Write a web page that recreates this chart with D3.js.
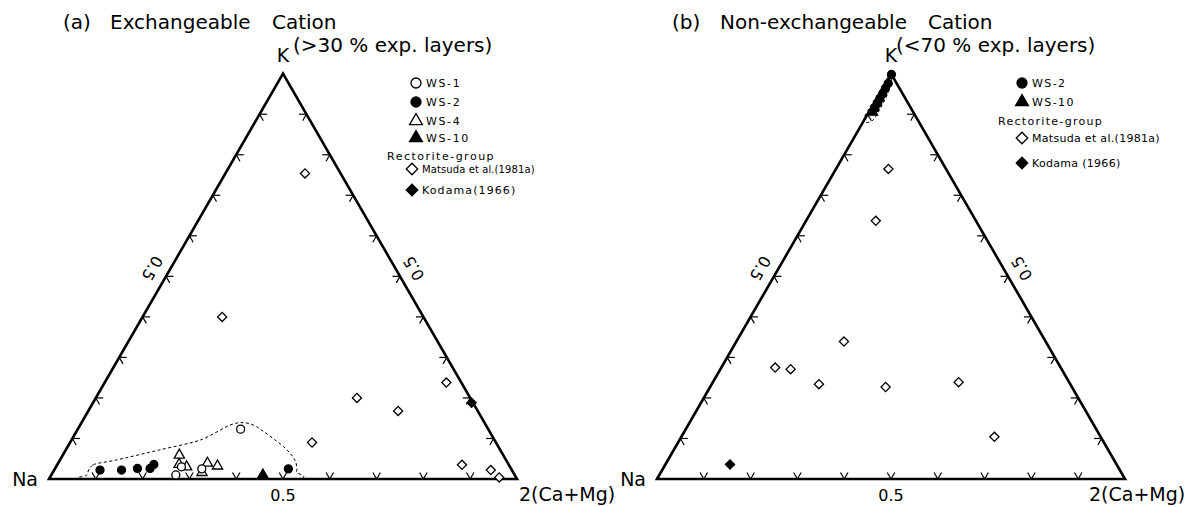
<!DOCTYPE html>
<html>
<head>
<meta charset="utf-8">
<script src="https://cdn.jsdelivr.net/npm/d3@7"></script>
<style>
  body { margin: 0; background: #fff; }
  svg { display: block; font-family: "DejaVu Sans", sans-serif; }
</style>
</head>
<body>
<script>
// compositions are [K, 2(Ca+Mg)] fractions, Na = 1 - K - Ca
const ws1A = [[0.010, 0.266], [0.030, 0.268], [0.025, 0.314], [0.123, 0.348]]
const ws2A = [[0.022, 0.098], [0.022, 0.144], [0.026, 0.176], [0.026, 0.203], [0.036, 0.206], [0.025, 0.499]]
const ws4A = [[0.059, 0.249], [0.036, 0.260], [0.030, 0.279], [0.016, 0.319], [0.039, 0.319], [0.032, 0.344]]
const ws10A = [[0.010, 0.452]]
const matsudaA = [[0.754, 0.170], [0.400, 0.170], [0.200, 0.558], [0.168, 0.662], [0.238, 0.730],
  [0.090, 0.517], [0.035, 0.865], [0.022, 0.933], [0.004, 0.960]]
const kodamaA = [[0.188, 0.809]]
const envelopeA = [[0.010, 0.076], [0.035, 0.077], [0.047, 0.121], [0.072, 0.201], [0.096, 0.275],
  [0.133, 0.320], [0.139, 0.346], [0.129, 0.379], [0.080, 0.461], [0.047, 0.502], [0.018, 0.520],
  [0.000, 0.515], [0.000, 0.088]]

const ws2B = [[0.998, 0.002], [0.976, 0.006], [0.964, 0.006], [0.951, 0.007], [0.939, 0.007], [0.927, 0.008], [0.915, 0.008]]
const ws10B = [[0.905, 0.008]]
const matsudaB = [[0.765, 0.112], [0.637, 0.149], [0.339, 0.230], [0.275, 0.115], [0.271, 0.150],
  [0.234, 0.229], [0.227, 0.375], [0.239, 0.525], [0.104, 0.669]]
const kodamaB = [[0.036, 0.138]]
const envelopeB = [[0.999, 0.001], [0.960, 0.016], [0.918, 0.020], [0.886, 0.019], [0.880, 0.006], [0.898, -0.004]]

const tickValues = d3.range(1, 10).map(i => i / 10)
const vertexLabels = ['Na', 'K', '2(Ca+Mg)']

const side = 468
const triH = side * Math.sqrt(3) / 2
const base = 479

const svg = d3.select('body').append('svg')
  .attr('width', 1192)
  .attr('height', 507)

const symbols = {
  circle: d3.symbol().type(d3.symbolCircle).size(50),
  triangle: d3.symbol().type(d3.symbolTriangle).size(46),
  diamond: d3.symbol().type(d3.symbolSquare).size(42)
}

const drawMark = (g, type, filled, x, y, k = 1) => {
  g.append('path')
    .attr('d', symbols[type]())
    .attr('transform', `translate(${x},${y}) scale(${k})` + (type === 'diamond' ? ' rotate(45)' : ''))
    .attr('fill', filled ? '#000' : '#fff')
    .attr('stroke', '#000')
    .attr('stroke-width', 1.3 / k)
}

const drawPanel = (x0, opts) => {
  const g = svg.append('g')
  const px = d3.scaleLinear().domain([0, 1]).range([x0, x0 + side])
  const py = d3.scaleLinear().domain([0, 1]).range([base, base - triH])
  const proj = ([k, ca]) => [px(ca + k / 2), py(k)]

  const line = d3.line().curve(d3.curveCardinalClosed.tension(0.2))
  g.append('path')
    .attr('d', line(opts.envelope.map(proj)))
    .attr('fill', 'none')
    .attr('stroke', '#000')
    .attr('stroke-width', 1)
    .attr('stroke-dasharray', '3,2.5')

  // ticks: short stubs along the grid directions
  const arm = 7.5
  const tickG = g.append('g').attr('stroke', '#000').attr('stroke-width', 1.2)
  const stub = (p, dirs) => dirs.forEach(([dx, dy]) => {
    tickG.append('line')
      .attr('x1', p[0]).attr('y1', p[1])
      .attr('x2', p[0] + dx * arm).attr('y2', p[1] + dy * arm)
  })
  const c = 0.5, s = Math.sqrt(3) / 2
  tickValues.forEach(t => {
    stub(proj([0, t]), [[c, -s], [-c, -s]])
    stub(proj([t, 0]), [[1, 0], [c, s]])
    stub(proj([t, 1 - t]), [[-1, 0], [-c, s]])
  })

  const corners = [proj([0, 0]), proj([1, 0]), proj([0, 1])]
  g.append('path')
    .attr('d', 'M' + corners.join('L') + 'Z')
    .attr('fill', 'none')
    .attr('stroke', '#000')
    .attr('stroke-width', 2.6)
    .attr('stroke-linejoin', 'miter')

  // 0.5 labels
  const lbl = (p, rot) => g.append('text')
    .attr('transform', `translate(${p[0]},${p[1]}) rotate(${rot})`)
    .attr('text-anchor', 'middle')
    .attr('dominant-baseline', 'central')
    .attr('font-size', 16)
    .text('0.5')
  const b = proj([0, 0.5]), l = proj([0.5, 0]), r = proj([0.5, 0.5])
  lbl([b[0], b[1] + 16], 0)
  lbl([l[0] - 16 * s, l[1] - 16 * c], 120)
  lbl([r[0] + 16 * s, r[1] - 16 * c], -120)

  // vertices
  g.append('text').attr('x', corners[0][0] - 11).attr('y', base + 7)
    .attr('text-anchor', 'end').attr('font-size', 19).text(vertexLabels[0])
  g.append('text').attr('x', corners[1][0]).attr('y', corners[1][1] - 12)
    .attr('text-anchor', 'middle').attr('font-size', 19).text(vertexLabels[1])
  g.append('text').attr('x', corners[2][0] + opts.caDx).attr('y', base + 22)
    .attr('font-size', 19).text(vertexLabels[2])

  opts.series.forEach(sr => {
    sr.data.forEach(d => {
      const [x, y] = proj(d)
      drawMark(g, sr.type, sr.filled, x, y)
    })
  })

  // titles
  opts.title.forEach(t => {
    g.append('text').attr('x', t[0]).attr('y', t[1]).attr('font-size', 20).text(t[2])
  })

  // legend
  const lg = g.append('g')
  opts.legend.forEach(it => {
    if (it.type) drawMark(lg, it.type, it.filled, it.x, it.y, 1.25)
    lg.append('text')
      .attr('x', it.type ? it.x + 10 : it.x)
      .attr('y', it.y + 4)
      .attr('font-size', it.fs || 11)
      .attr('letter-spacing', it.ls)
      .text(it.text)
  })
}

drawPanel(49, {
  caDx: 2,
  envelope: envelopeA,
  series: [
    { data: matsudaA, type: 'diamond', filled: false },
    { data: kodamaA, type: 'diamond', filled: true },
    { data: ws4A, type: 'triangle', filled: false },
    { data: ws1A, type: 'circle', filled: false },
    { data: ws2A, type: 'circle', filled: true },
    { data: ws10A, type: 'triangle', filled: true }
  ],
  title: [[63, 29, '(a)'], [110, 29, 'Exchangeable'], [272, 29, 'Cation'], [293, 52, '(>30 % exp. layers)']],
  legend: [
    { type: 'circle', filled: false, x: 416, y: 83, text: 'WS-1', ls: 1.6 },
    { type: 'circle', filled: true, x: 416, y: 102, text: 'WS-2', ls: 1.6 },
    { type: 'triangle', filled: false, x: 416, y: 121, text: 'WS-4', ls: 1.6 },
    { type: 'triangle', filled: true, x: 416, y: 138, text: 'WS-10', ls: 1.6 },
    { x: 387, y: 156, text: 'Rectorite-group', ls: 1.5 },
    { type: 'diamond', filled: false, x: 412, y: 169, text: 'Matsuda et al.(1981a)', fs: 10, ls: 0.1 },
    { type: 'diamond', filled: true, x: 412, y: 190, text: 'Kodama(1966)', ls: 1.1 }
  ]
})

drawPanel(657, {
  caDx: -36,
  envelope: envelopeB,
  series: [
    { data: matsudaB, type: 'diamond', filled: false },
    { data: kodamaB, type: 'diamond', filled: true },
    { data: ws10B, type: 'triangle', filled: true },
    { data: ws2B, type: 'circle', filled: true }
  ],
  title: [[672, 29, '(b)'], [720, 29, 'Non-exchangeable'], [928, 29, 'Cation'], [896, 52, '(<70 % exp. layers)']],
  legend: [
    { type: 'circle', filled: true, x: 1022, y: 83, text: 'WS-2', ls: 1.4 },
    { type: 'triangle', filled: true, x: 1022, y: 102, text: 'WS-10', ls: 1.4 },
    { x: 998, y: 121, text: 'Rectorite-group', ls: 1.3 },
    { type: 'diamond', filled: false, x: 1022, y: 138, text: 'Matsuda et al.(1981a)', ls: 0.3 },
    { type: 'diamond', filled: true, x: 1022, y: 163, text: 'Kodama (1966)', ls: 0.3 }
  ]
})
</script>
</body>
</html>
